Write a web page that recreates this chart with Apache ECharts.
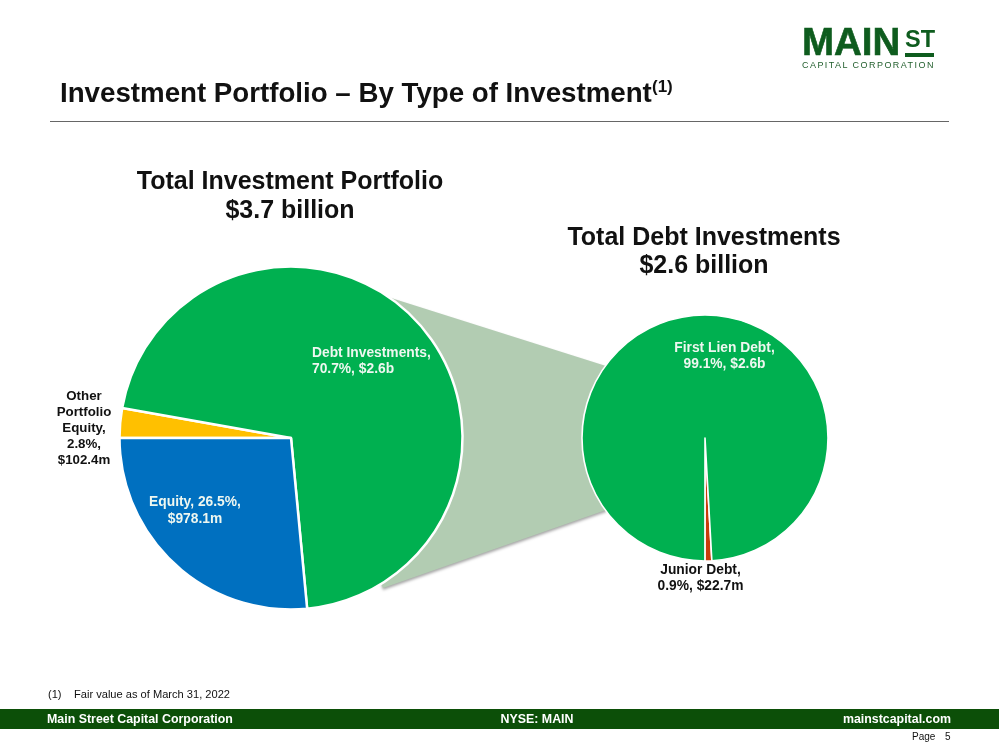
<!DOCTYPE html>
<html>
<head>
<meta charset="utf-8">
<style>
html, body { margin: 0; padding: 0; background: #fff; }
#chart { width: 999px; height: 750px; }
#tagline { position: absolute; left: 802px; top: 60px; font: 9px "Liberation Sans", Arial, sans-serif; letter-spacing: 1.45px; color: #24602f; white-space: nowrap; }
</style>
</head>
<body>
<div id="chart"></div>
<div id="tagline">CAPITAL CORPORATION</div>
<script src="https://cdn.jsdelivr.net/npm/echarts@6/dist/echarts.min.js"></script>
<script>
// total portfolio, clockwise from the left edge
var portfolioNames = ['Other Portfolio Equity', 'Debt Investments', 'Equity'];
var portfolioPercent = [2.8, 70.7, 26.5];
var portfolioAmounts = ['$102.4m', '$2.6b', '$978.1m'];
var portfolioColors = ['#ffc000', '#00b050', '#0070c0'];

// debt breakdown
var debtNames = ['Junior Debt', 'First Lien Debt'];
var debtPercent = [0.9, 99.1];
var debtAmounts = ['$22.7m', '$2.6b'];
var debtColors = ['#c83c0a', '#00b050'];

var FONT = '"Liberation Sans", Arial, sans-serif';
var INK = '#111111';
var LABEL_WHITE = '#eef7f0';

var portfolioLabels = [
    'Other\nPortfolio\nEquity,\n2.8%,\n$102.4m',
    'Debt Investments,\n70.7%, $2.6b',
    'Equity, 26.5%,\n$978.1m'
];
var debtLabels = ['Junior Debt,\n0.9%, $22.7m', 'First Lien Debt,\n99.1%, $2.6b'];

var portfolioLabelPos = [
    { x: 84, y: 428, align: 'center', verticalAlign: 'middle' },
    { x: 312, y: 361, align: 'left', verticalAlign: 'middle' },
    { x: 195, y: 510.5, align: 'center', verticalAlign: 'middle' }
];
var debtLabelPos = [
    { x: 700.5, y: 578, align: 'center', verticalAlign: 'middle' },
    { x: 724.5, y: 356, align: 'center', verticalAlign: 'middle' }
];

function pieData(names, values, colors) {
    return names.map(function (name, i) {
        var outside = name === 'Other Portfolio Equity' || name === 'Junior Debt';
        return {
            name: name,
            value: values[i],
            itemStyle: { color: colors[i] },
            label: {
                color: outside ? INK : LABEL_WHITE,
                fontSize: name === 'Other Portfolio Equity' ? 13.3 : 13.8,
                lineHeight: name === 'Other Portfolio Equity' ? 16 : 16.5
            }
        };
    });
}

function pieSeries(name, center, radius, startAngle, borderWidth, data, labels, positions) {
    return {
        type: 'pie',
        name: name,
        center: center,
        radius: radius,
        startAngle: startAngle,
        clockwise: true,
        silent: true,
        z: 3,
        data: data,
        itemStyle: { borderColor: '#ffffff', borderWidth: borderWidth },
        labelLine: { show: false },
        label: {
            show: true,
            position: 'inside',
            fontFamily: FONT,
            fontWeight: 'bold',
            formatter: function (p) {
                return labels[p.dataIndex];
            }
        },
        labelLayout: function (p) {
            return positions[p.dataIndex];
        }
    };
}

function slideText(text, x, y, size, opts) {
    opts = opts || {};
    return {
        type: 'text',
        z: 10,
        silent: true,
        style: {
            text: text,
            x: x,
            y: y,
            fill: opts.fill || INK,
            font: (opts.weight || 'bold') + ' ' + size + 'px ' + FONT,
            align: opts.align || 'left',
            verticalAlign: 'middle',
            lineHeight: opts.lineHeight,
            stroke: opts.stroke,
            lineWidth: opts.stroke ? 0.6 : 0
        }
    };
}

var chart = echarts.init(document.getElementById('chart'), null, { width: 999, height: 750 });

chart.setOption({
    animation: false,
    backgroundColor: '#ffffff',
    series: [
        pieSeries('Total Investment Portfolio', [291, 438], 171.5, 180, 2.5,
            pieData(portfolioNames, portfolioPercent, portfolioColors), portfolioLabels, portfolioLabelPos),
        pieSeries('Total Debt Investments', [705, 438], 123, 273.2, 1.6,
            pieData(debtNames, debtPercent, debtColors), debtLabels, debtLabelPos)
    ],
    graphic: [
        // connector between the two pies, sits behind them
        {
            type: 'polygon',
            z: -1,
            silent: true,
            shape: { points: [[388, 297], [606, 366], [650, 438], [606, 510], [383, 588], [340, 438]] },
            style: {
                fill: '#b2ccb2',
                shadowColor: 'rgba(0,0,0,0.35)',
                shadowBlur: 3,
                shadowOffsetY: 2
            }
        },
        // logo
        slideText('MAIN', 802, 44, 38.5, { fill: '#0e5c1e', stroke: '#0e5c1e' }),
        slideText('ST', 905, 41, 23.5, { fill: '#0e5c1e' }),
        { type: 'rect', z: 10, silent: true, shape: { x: 905, y: 53, width: 29, height: 4 }, style: { fill: '#0e5c1e' } },
        // heading
        slideText('Investment Portfolio \u2013 By Type of Investment', 60, 94, 27.7),
        slideText('(1)', 652, 87, 17),
        { type: 'rect', z: 10, silent: true, shape: { x: 50, y: 121, width: 899, height: 1 }, style: { fill: '#666666' } },
        // pie headings
        slideText('Total Investment Portfolio\n$3.7 billion', 290, 196.5, 25, { align: 'center', lineHeight: 29 }),
        slideText('Total Debt Investments\n$2.6 billion', 704, 252, 25, { align: 'center', lineHeight: 28.5 }),
        // footnote and footer
        slideText('(1)', 48, 695, 11.1, { weight: 'normal' }),
        slideText('Fair value as of March 31, 2022', 74, 695, 11.1, { weight: 'normal' }),
        { type: 'rect', z: 9, silent: true, shape: { x: 0, y: 709, width: 999, height: 20 }, style: { fill: '#0c4f08' } },
        slideText('Main Street Capital Corporation', 47, 720, 12.4, { fill: '#ffffff' }),
        slideText('NYSE: MAIN', 537, 720, 12.4, { fill: '#ffffff', align: 'center' }),
        slideText('mainstcapital.com', 951, 720, 12.4, { fill: '#ffffff', align: 'right' }),
        slideText('Page', 912, 737, 10, { weight: 'normal' }),
        slideText('5', 945, 737, 10, { weight: 'normal' })
    ]
});
</script>
</body>
</html>
